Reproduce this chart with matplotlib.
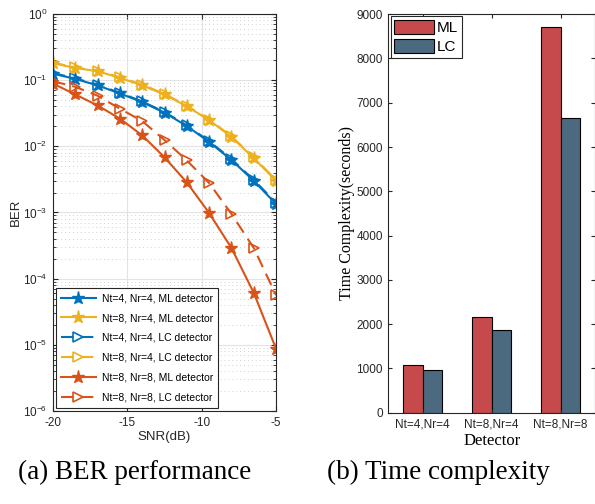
import numpy as np
import matplotlib
matplotlib.use("Agg")
import matplotlib.pyplot as plt
from matplotlib.ticker import LogLocator, NullFormatter

plt.rcParams['font.family'] = ['Liberation Sans', 'DejaVu Sans']
plt.rcParams['mathtext.default'] = 'regular'
plt.rcParams['axes.unicode_minus'] = False

# BER data
snr = [-20, -18.5, -17, -15.5, -14, -12.5, -11, -9.5, -8, -6.5, -5]
ber_44_ml = [0.125, 0.104, 0.083, 0.0627, 0.0464, 0.0321, 0.0202, 0.0116, 0.0062, 0.0030, 0.00134]
ber_84_ml = [0.18, 0.152, 0.136, 0.108, 0.083, 0.0605, 0.040, 0.0248, 0.0138, 0.0066, 0.0030]
ber_44_lc = [0.128, 0.106, 0.085, 0.064, 0.0475, 0.0328, 0.0207, 0.0119, 0.0064, 0.0031, 0.00140]
ber_84_lc = [0.183, 0.155, 0.138, 0.110, 0.085, 0.0618, 0.041, 0.0253, 0.0141, 0.0068, 0.0031]
ber_88_ml = [0.0886, 0.0605, 0.0414, 0.0261, 0.0146, 0.0068, 0.00284, 0.00098, 0.00029, 6.1e-5, 8.7e-6]
ber_88_lc = [0.096, 0.079, 0.058, 0.0369, 0.024, 0.0124, 0.0061, 0.00278, 0.00095, 0.00029, 5.6e-5]

# time complexity data
detectors = ['Nt=4,Nr=4', 'Nt=8,Nr=4', 'Nt=8,Nr=8']
time_ml = [1077, 2167, 8700]
time_lc = [964, 1867, 6646]

blue = '#0072BD'
orange = '#D95319'
yellow = '#EDB120'

fig = plt.figure(figsize=(5.95, 5.04), dpi=100)

# (a) BER performance
ax1 = fig.add_axes([0.089, 0.1845, 0.375, 0.788])
ml_style = dict(ls='-', lw=1.5, marker='*', ms=9.5)
lc_style = dict(ls='--', lw=1.5, marker='>', ms=6.5, mfc='none', mew=1.2, dashes=(6, 3.5))
ax1.plot(snr, ber_44_ml, color=blue, label='Nt=4, Nr=4, ML detector', **ml_style)
ax1.plot(snr, ber_84_ml, color=yellow, label='Nt=8, Nr=4, ML detector', **ml_style)
ax1.plot(snr, ber_44_lc, color=blue, label='Nt=4, Nr=4, LC detector', zorder=1.9, **lc_style)
ax1.plot(snr, ber_84_lc, color=yellow, label='Nt=8, Nr=4, LC detector', zorder=1.9, **lc_style)
ax1.plot(snr, ber_88_ml, color=orange, label='Nt=8, Nr=8, ML detector', **ml_style)
ax1.plot(snr, ber_88_lc, color=orange, label='Nt=8, Nr=8, LC detector', **lc_style)
ax1.set_yscale('log')
ax1.set_xlim(-20, -5)
ax1.set_ylim(1e-6, 1)
ax1.set_xticks([-20, -15, -10, -5])
ax1.yaxis.set_major_locator(LogLocator(base=10, numticks=10))
ax1.yaxis.set_minor_locator(LogLocator(base=10, subs=np.arange(2, 10), numticks=20))
ax1.yaxis.set_minor_formatter(NullFormatter())
ax1.grid(True, which='major', color='#e3e3e3', lw=0.8)
ax1.grid(True, which='minor', axis='y', color='#d0d0d0', lw=0.7, ls=(0, (1, 3)))
ax1.set_axisbelow(True)
ax1.tick_params(which='both', direction='in', top=True, right=True, labelsize=8.5, colors='#262626')
ax1.tick_params(which='major', length=3.5, pad=4)
ax1.tick_params(which='minor', length=2)
for s in ax1.spines.values():
    s.set_color('#262626')
    s.set_linewidth(0.8)
ax1.set_xlabel('SNR(dB)', fontsize=9.5, color='#262626', labelpad=2)
ax1.set_ylabel('BER', fontsize=9.5, color='#262626', labelpad=1)
leg = ax1.legend(loc='lower left', fontsize=7.5, frameon=True, fancybox=False,
                 edgecolor='#262626', framealpha=1, handlelength=3.3, labelspacing=0.95,
                 borderpad=0.5, borderaxespad=0.3, handletextpad=0.6)
leg.get_frame().set_linewidth(0.8)

# (b) Time complexity
ax2 = fig.add_axes([0.6526, 0.181, 0.3474, 0.791])
x = np.arange(1, len(detectors) + 1)
w = 0.28
ax2.bar(x - w / 2, time_ml, w, color='#C64A4C', edgecolor='black', lw=0.8, label='ML')
ax2.bar(x + w / 2, time_lc, w, color='#4B6A80', edgecolor='black', lw=0.8, label='LC')
ax2.set_xlim(0.5, 3.5)
ax2.set_ylim(0, 9000)
ax2.set_xticks(x)
ax2.set_xticklabels(detectors)
ax2.set_yticks(np.arange(0, 9001, 1000))
ax2.tick_params(which='both', direction='in', top=True, right=True, labelsize=8.5,
                colors='#262626', length=3, pad=4)
for s in ax2.spines.values():
    s.set_color('#262626')
    s.set_linewidth(0.8)
ax2.set_xlabel('Detector', fontsize=12, family='Liberation Serif', labelpad=2)
ax2.set_ylabel('Time Complexity(seconds)', fontsize=11.5, family='Liberation Serif', labelpad=1)
leg2 = ax2.legend(loc='upper left', fontsize=11, frameon=True, fancybox=False,
                  edgecolor='#262626', framealpha=1, handlelength=2.6, handleheight=1.0,
                  borderpad=0.25, borderaxespad=0.15, handletextpad=0.2, labelspacing=0.25)
leg2.get_frame().set_linewidth(0.8)

fig.text(0.227, 0.05, '(a) BER performance', fontsize=19.5, family='Liberation Serif', ha='center')
fig.text(0.737, 0.05, '(b) Time complexity', fontsize=19.5, family='Liberation Serif', ha='center')

fig.savefig('out.png', dpi=100)
